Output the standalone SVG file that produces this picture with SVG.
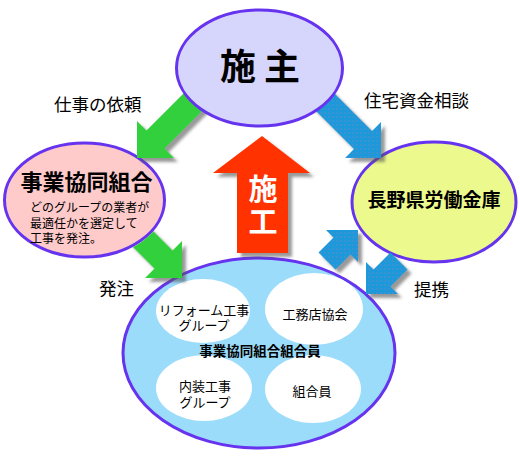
<svg xmlns="http://www.w3.org/2000/svg" width="520" height="460" viewBox="0 0 520 460">
<style>
text{font-family:"Noto Sans CJK JP","Noto Sans",sans-serif;fill:#000}
.node{stroke:#6633ee;stroke-width:3}
.b{font-weight:bold}
.c{text-anchor:middle}
.lbl{font-size:17.5px}
.inner{fill:#fff}
.in{font-size:13px;text-anchor:middle}
.green{fill:#33d03c}
.blue{fill:url(#dots)}
</style>
<defs>
<pattern id="dots" width="4" height="4" patternUnits="userSpaceOnUse">
<rect width="4" height="4" fill="#1d98db"/>
<circle cx="1" cy="1" r="0.7" fill="#6b8cbe"/>
</pattern>
<filter id="sh" x="-30%" y="-30%" width="170%" height="170%">
<feDropShadow dx="4" dy="4" stdDeviation="1.5" flood-color="#555" flood-opacity="0.6"/>
</filter>
<clipPath id="notPink">
<path clip-rule="evenodd" d="M0 0H520V460H0Z M3 200a81.5 58.5 0 1 0 163 0a81.5 58.5 0 1 0 -163 0Z"/>
</clipPath>
</defs>
<rect width="520" height="460" fill="#fff"/>

<g id="rokin">
<ellipse class="node" cx="434" cy="202" rx="82" ry="60" fill="#ecf98c"/>
<text class="b c" x="434" y="207" font-size="19">長野県労働金庫</text>
</g>

<g id="members">
<ellipse class="node" cx="259" cy="353" rx="136" ry="95" fill="#9cdcfb"/>
<ellipse class="inner" cx="203" cy="311" rx="47" ry="32"/>
<ellipse class="inner" cx="314" cy="309" rx="49" ry="36"/>
<ellipse class="inner" cx="204" cy="388" rx="48" ry="33"/>
<ellipse class="inner" cx="313" cy="389" rx="48" ry="34"/>
<text class="in" x="204" y="315"><tspan x="204">リフォーム工事</tspan><tspan x="204" dy="15">グループ</tspan></text>
<text class="in" x="315" y="319">工務店協会</text>
<text class="b c" x="260" y="356" font-size="13.5">事業協同組合組合員</text>
<text class="in" x="205" y="391"><tspan x="205">内装工事</tspan><tspan x="205" dy="16">グループ</tspan></text>
<text class="in" x="312" y="396">組合員</text>
</g>

<g id="kumiai">
<ellipse class="node" cx="84.5" cy="200" rx="80" ry="57" fill="#ffcaca"/>
<text class="b c" x="86.5" y="190" font-size="22">事業協同組合</text>
<text x="30" y="212" font-size="12"><tspan x="30">どのグループの業者が</tspan><tspan x="30" dy="15.5">最適任かを選定して</tspan><tspan x="30" dy="15.5">工事を発注。</tspan></text>
</g>

<g id="connectors">
<polygon class="green" filter="url(#sh)" points="137,158 137,121 146.5,130.5 201.5,75.5 219.5,93.5 164.5,148.5 174,158"/>
<g clip-path="url(#notPink)"><polygon class="green" filter="url(#sh)" points="182,278 182,241 172.5,250.5 132.5,210.5 114.5,228.5 154.5,268.5 145,278"/></g>
<polygon class="blue" filter="url(#sh)" points="381,158 381,122 372,131 312,71 294,89 354,149 345,158"/>
<polygon class="blue" filter="url(#sh)" points="358,230 326,230 333.5,237.5 318.5,252.5 335.5,269.5 350.5,254.5 358,262"/>
<polygon class="blue" filter="url(#sh)" points="366,294 366,262 373.5,269.5 390.5,252.5 407.5,269.5 390.5,286.5 398,294"/>
<polygon fill="#ff3300" filter="url(#sh)" points="262,136 310,173 288,173 288,253 237,253 237,173 213,173"/>
<text class="b c" x="263" y="200" font-size="29" style="fill:#fff"><tspan x="263">施</tspan><tspan x="263" dy="33">工</tspan></text>
<text class="lbl" x="54" y="111">仕事の依頼</text>
<text class="lbl" x="364" y="107">住宅資金相談</text>
<text class="lbl" x="99" y="295">発注</text>
<text class="lbl" x="414" y="296">提携</text>
</g>

<g id="seshu">
<ellipse class="node" cx="259.5" cy="68" rx="83" ry="58" fill="#d6d6fc"/>
<text class="b c" x="260" y="80" font-size="36">施 主</text>
</g>
</svg>
